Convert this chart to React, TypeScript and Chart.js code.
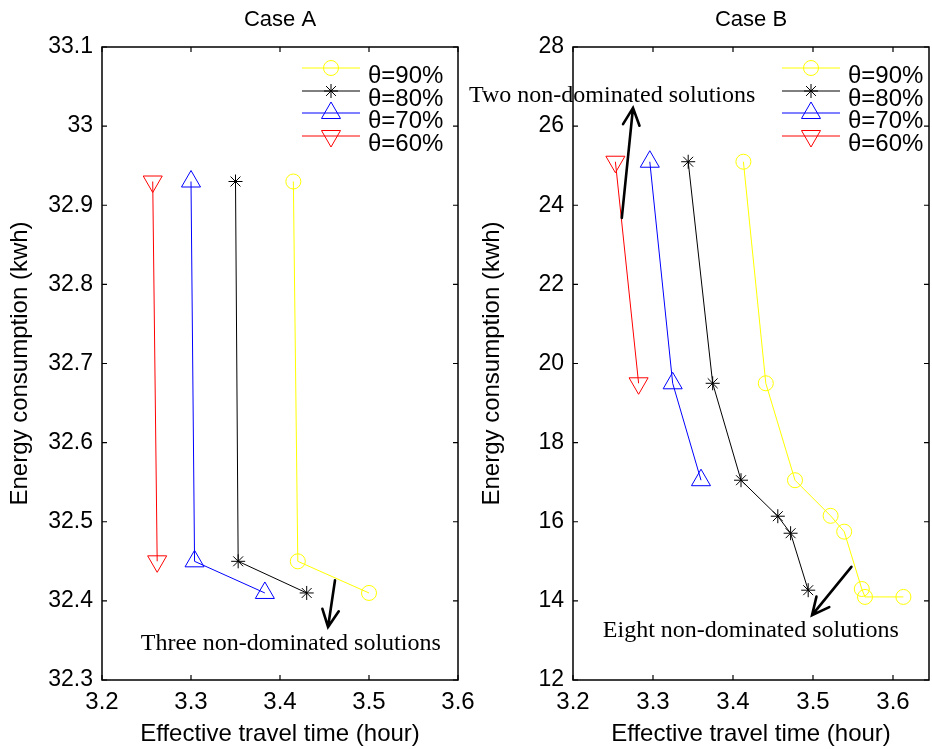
import React, { useEffect, useRef } from 'react';
import { Chart, registerables } from 'chart.js';
import { drawPoint } from 'chart.js/helpers';

Chart.register(...registerables);

// ---------- data ----------
const seriesLabels = ['θ=90%', 'θ=80%', 'θ=70%', 'θ=60%'];
const seriesColors = ['#ffff00', '#000000', '#0000ff', '#ff0000'];
const seriesPointStyles = ['circle', 'star', 'triangle', 'triangle'];
const seriesRotations = [0, 0, 0, 180];
const seriesRadii = [7.5, 7, 11, 11];

// Case A
const caseAx90 = [3.415, 3.42, 3.5];
const caseAy90 = [32.93, 32.45, 32.41];
const caseAx80 = [3.35, 3.353, 3.43];
const caseAy80 = [32.93, 32.45, 32.41];
const caseAx70 = [3.3, 3.304, 3.383];
const caseAy70 = [32.93, 32.45, 32.41];
const caseAx60 = [3.257, 3.262];
const caseAy60 = [32.93, 32.45];

// Case B
const caseBx90 = [3.413, 3.441, 3.4775, 3.522, 3.539, 3.561, 3.565, 3.613];
const caseBy90 = [25.1, 19.5, 17.05, 16.15, 15.75, 14.3, 14.1, 14.1];
const caseBx80 = [3.344, 3.3746, 3.41, 3.456, 3.472, 3.494];
const caseBy80 = [25.1, 19.5, 17.05, 16.14, 15.71, 14.27];
const caseBx70 = [3.296, 3.3246, 3.36];
const caseBy70 = [25.1, 19.5, 17.05];
const caseBx60 = [3.253, 3.282];
const caseBy60 = [25.1, 19.5];

// ticks
const caseAxTicks = [3.2, 3.3, 3.4, 3.5, 3.6];
const caseAyTicks = [32.3, 32.4, 32.5, 32.6, 32.7, 32.8, 32.9, 33, 33.1];
const caseBxTicks = [3.2, 3.3, 3.4, 3.5, 3.6];
const caseByTicks = [12, 14, 16, 18, 20, 22, 24, 26, 28];

// annotations (data units)
const caseANotes = [{ text: 'Three non-dominated solutions', x: 3.4121, y: 32.338 }];
const caseAArrows = [{ x1: 3.4618, y1: 32.426, x2: 3.454, y2: 32.367 }];
const caseBNotes = [
  { text: 'Two non-dominated solutions', x: 3.249, y: 26.61 },
  { text: 'Eight non-dominated solutions', x: 3.4223, y: 13.094 },
];
const caseBArrows = [
  { x1: 3.261, y1: 23.68, x2: 3.275, y2: 26.46 },
  { x1: 3.548, y1: 14.86, x2: 3.4988, y2: 13.64 },
];

const SANS = "'Liberation Sans', Arial, sans-serif";
const SERIF = "'Liberation Serif', 'Times New Roman', serif";

function zip(xs: number[], ys: number[]) {
  return xs.map((x, i) => ({ x, y: ys[i] }));
}

function makeDatasets(xs: number[][], ys: number[][]) {
  return xs.map((x, i) => ({
    label: seriesLabels[i],
    data: zip(x, ys[i]),
    showLine: true,
    borderColor: seriesColors[i],
    borderWidth: 1,
    pointStyle: seriesPointStyles[i] as any,
    rotation: seriesRotations[i],
    pointRadius: seriesRadii[i],
    pointHoverRadius: seriesRadii[i],
    pointBorderColor: seriesColors[i],
    pointBackgroundColor: 'rgba(0,0,0,0)',
    pointBorderWidth: 1,
    fill: false,
    tension: 0,
  }));
}

interface ChartSpec {
  title: string;
  datasets: any[];
  xMin: number;
  xMax: number;
  yMin: number;
  yMax: number;
  xTicks: number[];
  yTicks: number[];
  notes: { text: string; x: number; y: number }[];
  arrows: { x1: number; y1: number; x2: number; y2: number }[];
  canvasLeft: number;
  canvasWidth: number;
  areaLeft: number;
  areaRight: number;
  yTitleCenter: number;
  legendLineX: number;
}

const fmt = (v: number) => String(Number(v.toFixed(3)));

function framePlugin(spec: ChartSpec) {
  return {
    id: 'frame' + spec.title.replace(/\s/g, ''),
    beforeDatasetsDraw(chart: any) {
      const { ctx, chartArea } = chart;
      const { left, right, top, bottom } = chartArea;
      const xs = chart.scales.x;
      const ys = chart.scales.y;
      ctx.save();
      ctx.strokeStyle = '#000';
      ctx.lineWidth = 1.5;
      ctx.strokeRect(left, top, right - left, bottom - top);
      ctx.lineWidth = 1.2;
      const tl = 5;
      ctx.beginPath();
      spec.xTicks.forEach((v) => {
        const px = xs.getPixelForValue(v);
        ctx.moveTo(px, bottom);
        ctx.lineTo(px, bottom - tl);
        ctx.moveTo(px, top);
        ctx.lineTo(px, top + tl);
      });
      spec.yTicks.forEach((v) => {
        const py = ys.getPixelForValue(v);
        ctx.moveTo(left, py);
        ctx.lineTo(left + tl, py);
        ctx.moveTo(right, py);
        ctx.lineTo(right - tl, py);
      });
      ctx.stroke();
      ctx.restore();
    },
    afterDraw(chart: any) {
      const { ctx, chartArea } = chart;
      const xs = chart.scales.x;
      const ys = chart.scales.y;
      ctx.save();
      // title
      ctx.fillStyle = '#000';
      ctx.font = `22px ${SANS}`;
      ctx.textAlign = 'center';
      ctx.textBaseline = 'middle';
      ctx.fillText(spec.title, (chartArea.left + chartArea.right) / 2, 20);

      // legend
      const rowY = [21, 44, 66, 89];
      spec.datasets.forEach((ds: any, i: number) => {
        const y = chartArea.top + rowY[i];
        const x0 = spec.legendLineX;
        ctx.strokeStyle = ds.borderColor;
        ctx.lineWidth = 1;
        ctx.beginPath();
        ctx.moveTo(x0, y);
        ctx.lineTo(x0 + 58, y);
        ctx.stroke();
        ctx.fillStyle = 'rgba(0,0,0,0)';
        ctx.strokeStyle = ds.borderColor;
        drawPoint(ctx, {
          pointStyle: ds.pointStyle,
          rotation: ds.rotation,
          radius: ds.pointRadius,
          borderWidth: 1,
        } as any, x0 + 29, y);
        ctx.fillStyle = '#000';
        ctx.font = `24px ${SANS}`;
        ctx.textAlign = 'left';
        ctx.textBaseline = 'alphabetic';
        ctx.fillText(ds.label, x0 + 66, y + 15);
      });

      // notes
      ctx.fillStyle = '#000';
      ctx.font = `24px ${SERIF}`;
      ctx.textAlign = 'center';
      ctx.textBaseline = 'alphabetic';
      spec.notes.forEach((n) => {
        ctx.fillText(n.text, xs.getPixelForValue(n.x), ys.getPixelForValue(n.y));
      });

      // arrows
      ctx.strokeStyle = '#000';
      ctx.lineWidth = 2.6;
      ctx.lineCap = 'round';
      spec.arrows.forEach((a) => {
        const x1 = xs.getPixelForValue(a.x1);
        const y1 = ys.getPixelForValue(a.y1);
        const x2 = xs.getPixelForValue(a.x2);
        const y2 = ys.getPixelForValue(a.y2);
        const ang = Math.atan2(y2 - y1, x2 - x1);
        const wl = 19;
        const wa = 0.45;
        ctx.beginPath();
        ctx.moveTo(x1, y1);
        ctx.lineTo(x2, y2);
        ctx.moveTo(x2 - wl * Math.cos(ang - wa), y2 - wl * Math.sin(ang - wa));
        ctx.lineTo(x2, y2);
        ctx.lineTo(x2 - wl * Math.cos(ang + wa), y2 - wl * Math.sin(ang + wa));
        ctx.stroke();
      });
      ctx.restore();
    },
  };
}

function PlotCanvas({ spec }: { spec: ChartSpec }) {
  const ref = useRef<HTMLCanvasElement | null>(null);
  useEffect(() => {
    if (!ref.current) return;
    const tickFont = { family: SANS, size: 24 };
    const chart = new Chart(ref.current, {
      type: 'line',
      data: { datasets: spec.datasets },
      options: {
        animation: false,
        responsive: false,
        maintainAspectRatio: false,
        layout: {
          autoPadding: false,
          padding: { left: 0, right: spec.canvasWidth - spec.areaRight, top: 47, bottom: 0 },
        },
        plugins: {
          legend: { display: false },
          title: { display: false },
          tooltip: { enabled: false },
        },
        scales: {
          x: {
            type: 'linear',
            min: spec.xMin,
            max: spec.xMax,
            afterBuildTicks: (s: any) => {
              s.ticks = spec.xTicks.map((v) => ({ value: v }));
            },
            afterFit: (s: any) => {
              s.height = 69;
              s.paddingLeft = 0;
              s.paddingRight = 0;
            },
            grid: { display: false, drawTicks: false },
            border: { display: false },
            ticks: {
              font: tickFont,
              color: '#000',
              padding: 8,
              maxRotation: 0,
              autoSkip: false,
              callback: (v: any) => fmt(Number(v)),
            },
            title: {
              display: true,
              text: 'Effective travel time (hour)',
              font: { family: SANS, size: 24 },
              color: '#000',
              padding: { top: 0, bottom: 0 },
            },
          },
          y: {
            type: 'linear',
            min: spec.yMin,
            max: spec.yMax,
            afterBuildTicks: (s: any) => {
              s.ticks = spec.yTicks.map((v) => ({ value: v }));
            },
            afterFit: (s: any) => {
              s.width = spec.areaLeft;
              s.paddingTop = 0;
              s.paddingBottom = 0;
            },
            grid: { display: false, drawTicks: false },
            border: { display: false },
            ticks: {
              font: { family: SANS, size: 23 },
              color: '#000',
              padding: 9,
              autoSkip: false,
              callback: (v: any) => fmt(Number(v)),
            },
            title: {
              display: true,
              text: 'Energy consumption (kwh)',
              font: { family: SANS, size: 24 },
              color: '#000',
              padding: { top: spec.yTitleCenter - 14.4, bottom: 0 },
            },
          },
        },
      },
      plugins: [framePlugin(spec)],
    } as any);
    return () => chart.destroy();
  }, [spec]);
  return (
    <canvas
      ref={ref}
      width={spec.canvasWidth}
      height={749}
      style={{ position: 'absolute', left: spec.canvasLeft, top: 0, width: spec.canvasWidth, height: 749 }}
    />
  );
}

const specA: ChartSpec = {
  title: 'Case A',
  datasets: makeDatasets([caseAx90, caseAx80, caseAx70, caseAx60], [caseAy90, caseAy80, caseAy70, caseAy60]),
  xMin: 3.2,
  xMax: 3.6,
  yMin: 32.3,
  yMax: 33.1,
  xTicks: caseAxTicks,
  yTicks: caseAyTicks,
  notes: caseANotes,
  arrows: caseAArrows,
  canvasLeft: 0,
  canvasWidth: 500,
  areaLeft: 102,
  areaRight: 458,
  yTitleCenter: 20,
  legendLineX: 302,
};

const specB: ChartSpec = {
  title: 'Case B',
  datasets: makeDatasets([caseBx90, caseBx80, caseBx70, caseBx60], [caseBy90, caseBy80, caseBy70, caseBy60]),
  xMin: 3.2,
  xMax: 3.645,
  yMin: 12,
  yMax: 28,
  xTicks: caseBxTicks,
  yTicks: caseByTicks,
  notes: caseBNotes,
  arrows: caseBArrows,
  canvasLeft: 460,
  canvasWidth: 472,
  areaLeft: 113,
  areaRight: 469,
  yTitleCenter: 32,
  legendLineX: 782 - 460,
};

export default function App() {
  return (
    <div style={{ position: 'absolute', left: 0, top: 0, width: 932, height: 749, background: '#fff', overflow: 'hidden' }}>
      <PlotCanvas spec={specA} />
      <PlotCanvas spec={specB} />
    </div>
  );
}
